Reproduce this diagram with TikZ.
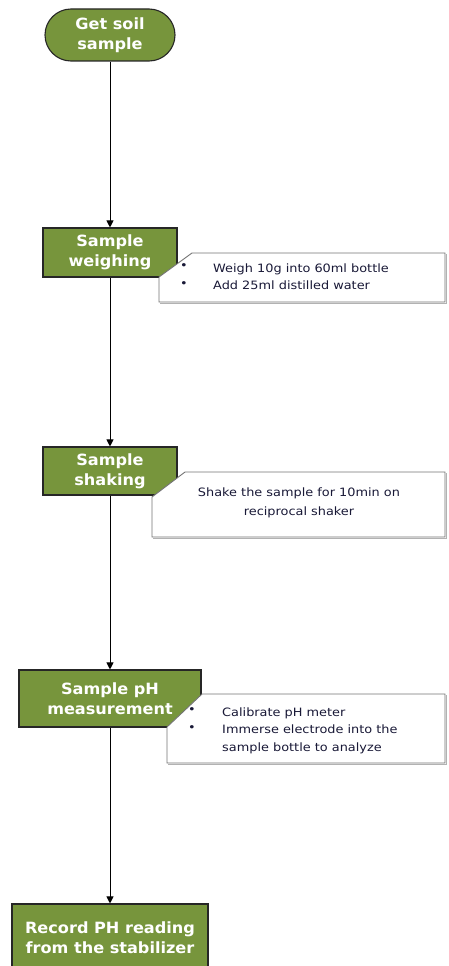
\documentclass[tikz,border=0pt]{standalone}
\usepackage{fontspec}
\setmainfont{DejaVu Sans}
\newfontfamily\calloutfont[FakeStretch=1.12]{DejaVu Sans}
\newfontfamily\boxfont[FakeStretch=1.04]{DejaVu Sans}
\usetikzlibrary{arrows.meta}
\definecolor{leaf}{RGB}{119,149,60}
\definecolor{inkblue}{RGB}{25,25,55}
\begin{document}
\begin{tikzpicture}[x=1pt,y=-1pt]
\clip (0,0) rectangle (448,966);
\tikzset{
 greenbox/.style={draw=black!85, line width=1.1pt, fill=leaf, text=white, font=\boxfont\bfseries\fontsize{15.5}{20}\selectfont, align=center, inner sep=0pt},
 flowarrow/.style={draw=black, line width=1pt, -{Triangle[length=7pt,width=7pt]}},
 calloutshape/.style={draw=black!55, fill=white, line width=0.9pt},
 callshadow/.style={draw=black!30, line width=1.6pt},
 calltext/.style={font=\calloutfont\fontsize{11.5}{17.5}\selectfont, text=inkblue, inner sep=0pt},
 bullettext/.style={calltext, align=left, anchor=north west}
}
% terminator and process boxes
\node[greenbox, rounded corners=26pt, minimum width=130pt, minimum height=52pt] (start) at (110,35) {Get soil\\sample};
\node[greenbox, minimum width=134pt, minimum height=49pt] (weigh) at (110,252.5) {Sample\\weighing};
\node[greenbox, minimum width=134pt, minimum height=48pt] (shake) at (110,471) {Sample\\shaking};
\node[greenbox, minimum width=182pt, minimum height=57pt] (measure) at (110,698.5) {Sample pH\\measurement};
\node[greenbox, minimum width=196pt, minimum height=68pt] (record) at (110,938) {Record PH reading\\from the stabilizer};
% connectors
\draw[flowarrow] (start.south) -- (weigh.north);
\draw[flowarrow] (weigh.south) -- (shake.north);
\draw[flowarrow] (shake.south) -- (measure.north);
\draw[flowarrow] (measure.south) -- (record.north);
% callout 1
\draw[callshadow] (446.5,254) -- (446.5,303.5) -- (160,303.5);
\draw[calloutshape] (192,253) -- (445,253) -- (445,302) -- (159,302) -- (159,277) -- cycle;
\node[bullettext] (c1b) at (180,263.5) {•\\•};
\node[bullettext] (c1t) at (213,263.5) {Weigh 10g into 60ml bottle\\Add 25ml distilled water};
% callout 2
\draw[callshadow] (446.5,473) -- (446.5,538.5) -- (153,538.5);
\draw[calloutshape] (185,472) -- (445,472) -- (445,537) -- (152,537) -- (152,497) -- cycle;
\node[calltext, align=center, font=\calloutfont\fontsize{11.5}{19.5}\selectfont] (c2t) at (299,503) {Shake the sample for 10min on\\reciprocal shaker};
% callout 3
\draw[callshadow] (446.5,695) -- (446.5,764.5) -- (168,764.5);
\draw[calloutshape] (202,694) -- (445,694) -- (445,763) -- (167,763) -- (167,727) -- cycle;
\node[bullettext] (c3b) at (188,707.5) {•\\•};
\node[bullettext] (c3t) at (222,707.5) {Calibrate pH meter\\Immerse electrode into the\\sample bottle to analyze};
\end{tikzpicture}
\end{document}
